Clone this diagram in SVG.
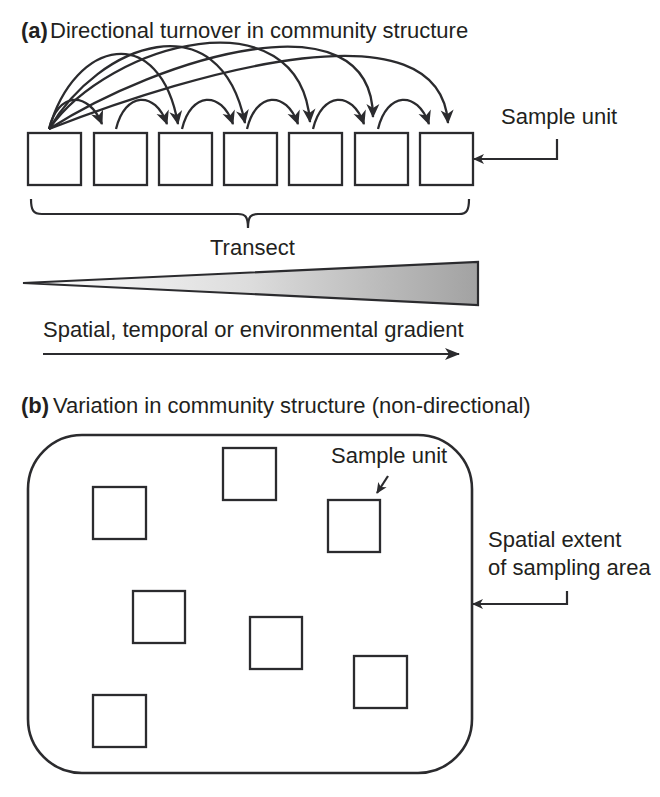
<svg xmlns="http://www.w3.org/2000/svg" width="660" height="797" viewBox="0 0 660 797">
<style>
text{font-family:"Liberation Sans",Arial,sans-serif;font-size:22px;fill:#231f20}
.b{font-weight:bold}
.box{fill:#fff;stroke:#2b2b2e;stroke-width:2.3}
.ln{fill:none;stroke:#2b2b2e;stroke-width:2.2}
.ar{fill:none;stroke:#2b2b2e;stroke-width:2.3;marker-end:url(#ah)}
</style>
<defs>
<marker id="ah" markerUnits="userSpaceOnUse" markerWidth="16" markerHeight="14" refX="13" refY="6.5" orient="auto" overflow="visible">
<path d="M0,0 L14,6.5 L0,13 L4,6.5 Z" fill="#2b2b2e"/>
</marker>
<marker id="ahs" markerUnits="userSpaceOnUse" markerWidth="12" markerHeight="10" refX="10" refY="5" orient="auto" overflow="visible">
<path d="M0,0 L11,5 L0,10 L3,5 Z" fill="#2b2b2e"/>
</marker>
<marker id="ahg" markerUnits="userSpaceOnUse" markerWidth="16" markerHeight="12" refX="14" refY="6" orient="auto" overflow="visible">
<path d="M0,0 L15,6 L0,12 L4,6 Z" fill="#2b2b2e"/>
</marker>
<linearGradient id="wg" x1="0" y1="0" x2="1" y2="0">
<stop offset="0" stop-color="#ffffff"/>
<stop offset="0.5" stop-color="#dcdcdc"/>
<stop offset="1" stop-color="#a2a2a2"/>
</linearGradient>
</defs>

<g id="title-a"><text x="21" y="38"><tspan class="b">(a)</tspan><tspan x="50">Directional turnover in community structure</tspan></text></g>

<g id="transect-units">
<rect class="box" x="28" y="133" width="53" height="52"/>
<rect class="box" x="94" y="133" width="53" height="52"/>
<rect class="box" x="159" y="133" width="53" height="52"/>
<rect class="box" x="224" y="133" width="53" height="52"/>
<rect class="box" x="289" y="133" width="53" height="52"/>
<rect class="box" x="355" y="133" width="53" height="52"/>
<rect class="box" x="420" y="133" width="53" height="52"/>
</g>

<g id="connectors">
<path class="ar" d="M49,129 C58,92 88,90 102,124"/>
<path class="ar" d="M49,129 C75,38 160,22 178,124"/>
<path class="ar" d="M49,129 C100,42 220,0 245,123"/>
<path class="ar" d="M49,129 C110,42 300,-8 310,122"/>
<path class="ar" d="M49,129 C160,58 372,-8 373,117"/>
<path class="ar" d="M49,129 C200,70 440,2 448,123"/>
<path class="ar" d="M116,129 C125,92 155,90 167,124"/>
<path class="ar" d="M182,129 C191,92 221,90 233,124"/>
<path class="ar" d="M247,129 C256,92 286,90 298,124"/>
<path class="ar" d="M313,129 C322,92 352,90 364,124"/>
<path class="ar" d="M378,129 C387,92 417,90 429,124"/>
<path class="ln" d="M557,139 V159 H474" marker-end="url(#ahs)"/>
<path class="ln" d="M43,354 H459" marker-end="url(#ahg)"/>
<path class="ln" d="M388,476 L377,493" marker-end="url(#ahs)"/>
<path class="ln" d="M567,591 V604 H473" marker-end="url(#ahs)"/>
</g>

<g id="label-sample-a"><text x="501" y="124">Sample unit</text></g>

<g id="bracket">
<path class="ln" d="M31,199 C31,210 33,214 42,214 H238 C245,214 248,216 248,228 C248,216 251,214 258,214 H459 C467,214 469,210 469,199"/>
<text x="210" y="255">Transect</text>
</g>

<g id="wedge">
<polygon points="23,283 478,262 478,305" fill="url(#wg)" stroke="#2b2b2e" stroke-width="2.2" stroke-linejoin="miter"/>
</g>

<g id="gradient-label"><text x="43" y="337">Spatial, temporal or environmental gradient</text></g>

<g id="title-b"><text x="21" y="413"><tspan class="b">(b)</tspan><tspan x="53">Variation in community structure (non-directional)</tspan></text></g>

<g id="sampling-area">
<rect x="28" y="435" width="444" height="338" rx="54" ry="54" fill="none" stroke="#2b2b2e" stroke-width="2.6"/>
</g>

<g id="area-units">
<rect class="box" x="93" y="487" width="53" height="52"/>
<rect class="box" x="223" y="448" width="53" height="52"/>
<rect class="box" x="328" y="500" width="52" height="52"/>
<rect class="box" x="133" y="591" width="52" height="52"/>
<rect class="box" x="250" y="617" width="52" height="52"/>
<rect class="box" x="354" y="656" width="53" height="52"/>
<rect class="box" x="93" y="695" width="53" height="52"/>
</g>

<g id="label-sample-b"><text x="331" y="463">Sample unit</text></g>
<g id="label-extent"><text x="488" y="547">Spatial extent</text><text x="488" y="575">of sampling area</text></g>
</svg>
